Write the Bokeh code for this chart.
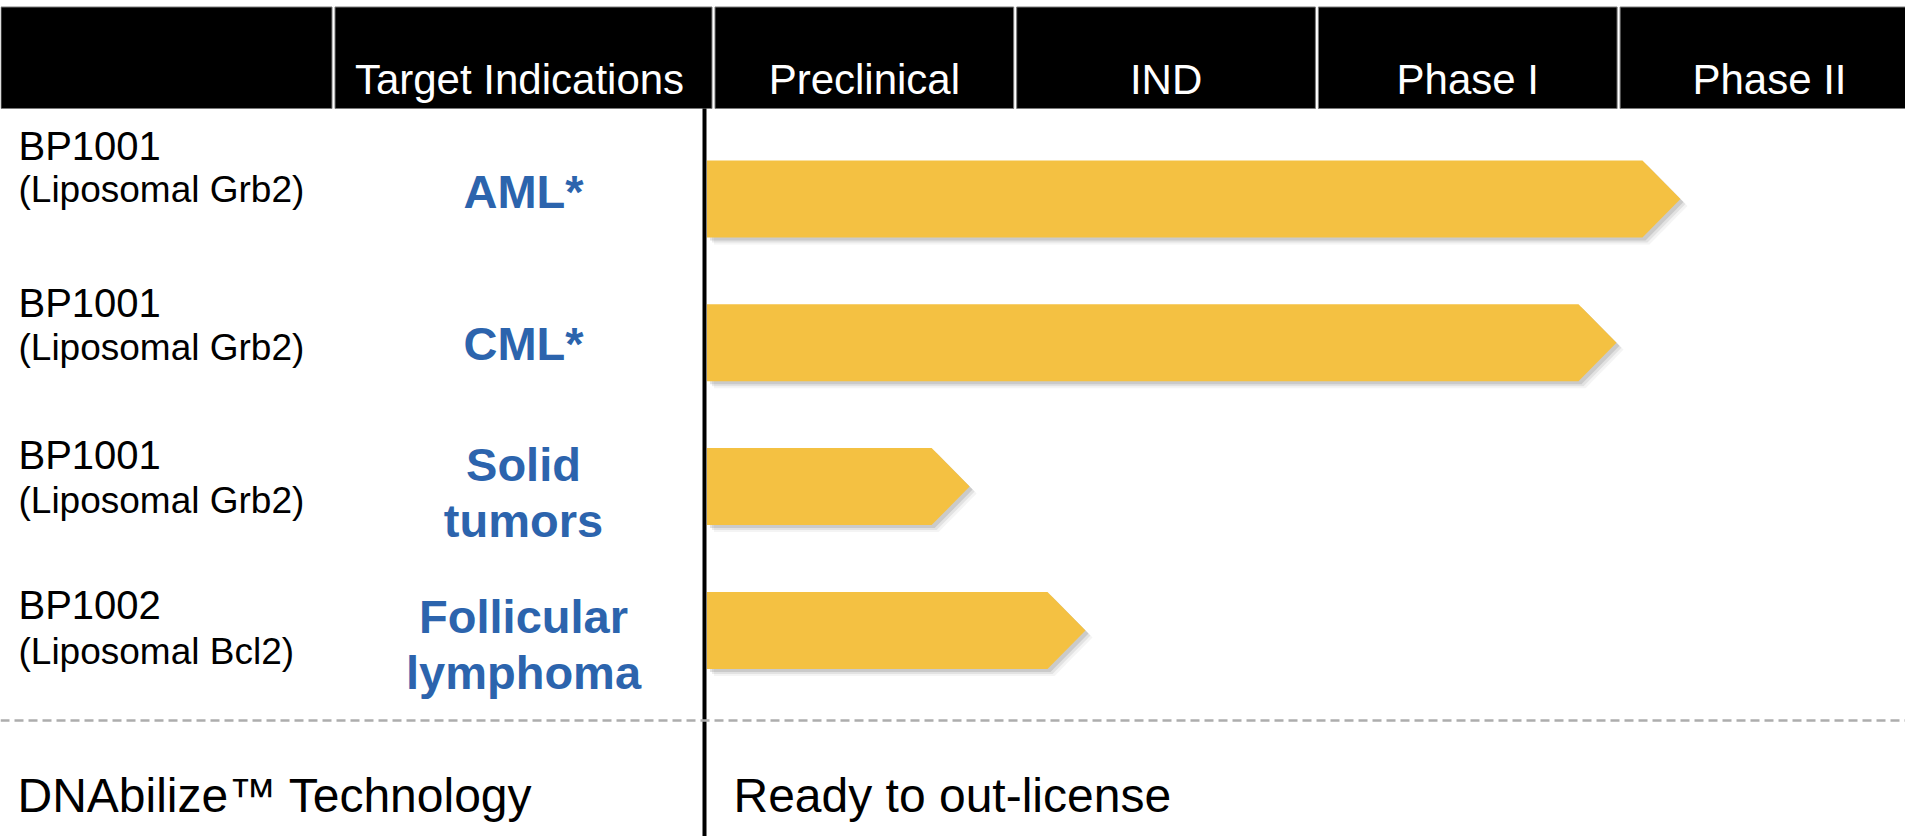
from bokeh.plotting import figure
from bokeh.models import Range1d
from bokeh.core.properties import value
from bokeh.embed import file_html
from bokeh.resources import INLINE

# ---------------- data ----------------
first_header = "Target Indications"
stages = ["Preclinical", "IND", "Phase I", "Phase II"]
drugs = ["BP1001", "BP1001", "BP1001", "BP1002"]
formulations = ["(Liposomal Grb2)", "(Liposomal Grb2)", "(Liposomal Grb2)", "(Liposomal Bcl2)"]
indications = [["AML*"], ["CML*"], ["Solid", "tumors"], ["Follicular", "lymphoma"]]
# progress in stage units, measured from the start of "Preclinical"
progress = [3.205, 2.993, 0.849, 1.233]
platform = "DNAbilize\u2122 Technology"
platform_status = "Ready to out-license"

# ---------------- layout helpers (reference pixel -> data units) ----------------
X0, CW = 713.0, 301.7     # start of Preclinical column, width of one stage column
Y0, RH = 198.5, 143.8     # centre of first row, row pitch
W, H = 1905, 836


def X(px):
    return (px - X0) / CW


def Y(py):
    return (py - Y0) / RH


def TY(base, fs):
    # baseline correction for the text renderer
    return Y(base - 0.37 * fs)


FONT = value("Liberation Sans")
BAR = "#F4C142"
BLUE = "#2C64AD"

p = figure(width=W, height=H,
           x_range=Range1d(X(0), X(W)), y_range=Range1d(Y(H), Y(0)),
           output_backend="svg", toolbar_location=None,
           x_axis_location=None, y_axis_location=None, min_border=0)
p.grid.visible = False
p.outline_line_color = None
p.background_fill_color = "white"
p.border_fill_color = "white"

# ---- header band (one black cell per column, white gaps between) ----
bounds = [X(0.5), X(333)] + [float(i) for i in range(len(stages))] + [X(1915)]
cell_l = [b + 1.5 / CW for b in bounds[:-1]]
cell_r = [b - 1.5 / CW for b in bounds[1:]]
cell_l[0] = bounds[0]
p.quad(left=cell_l, right=cell_r, top=[Y(6.5)] * len(cell_l), bottom=[Y(108)] * len(cell_l),
       fill_color="black", line_color="#7a7a7a", line_width=1)

HF = 42
head_x = [X(519)] + [i + 0.5 for i in range(len(stages))]
head_t = [first_header] + stages
p.text(x=head_x, y=[TY(95, HF)] * len(head_x), text=head_t, text_color="white",
       text_font=FONT, text_font_size=f"{HF}px", text_align="center", text_baseline="alphabetic")

# ---- vertical divider & dashed separator ----
p.segment(x0=[X(704)], y0=[Y(108)], x1=[X(704)], y1=[Y(845)], line_color="black", line_width=4)
p.segment(x0=[X(0)], y0=[Y(720)], x1=[X(1911)], y1=[Y(720)], line_color="#ADADAD",
          line_width=2.5, line_dash="9 5")

# ---- bars (arrow shapes) with soft shadow ----
left = X(706.5)
hh = 38.5 / RH
tip = 38.0 / CW
rows = list(range(len(progress)))


def arrow(v, r, dx=0.0, dy=0.0):
    xs = [left + dx, v - tip + dx, v + dx, v - tip + dx, left + dx]
    ys = [r - hh + dy, r - hh + dy, r + dy, r + hh + dy, r + hh + dy]
    return xs, ys


for off, a in [(7, 0.07), (5, 0.12), (3, 0.18)]:
    sx, sy = zip(*[arrow(v, r, off / CW, off / RH) for v, r in zip(progress, rows)])
    p.patches(xs=list(sx), ys=list(sy), fill_color="#606060", fill_alpha=a, line_color=None)

bx, by = zip(*[arrow(v, r) for v, r in zip(progress, rows)])
p.patches(xs=list(bx), ys=list(by), fill_color=BAR, line_color=None)

# ---- row labels ----
F1, F2 = 40, 37
line1_base = [160, 317, 469, 619]
line2_base = [203, 361, 514, 665]
p.text(x=[X(18)] * len(drugs), y=[TY(b, F1) for b in line1_base], text=drugs, text_color="black",
       text_font=FONT, text_font_size=f"{F1}px", text_align="left", text_baseline="alphabetic")
p.text(x=[X(18)] * len(formulations), y=[TY(b, F2) for b in line2_base], text=formulations,
       text_color="black", text_font=FONT, text_font_size=f"{F2}px", text_align="left",
       text_baseline="alphabetic")

# ---- indications (blue bold) ----
FB = 47
ind_first_base = [208, 360, 481, 633]
ind_t, ind_y = [], []
for lines, b in zip(indications, ind_first_base):
    for k, t in enumerate(lines):
        ind_t.append(t)
        ind_y.append(TY(b + 56 * k, FB))
p.text(x=[X(523)] * len(ind_t), y=ind_y, text=ind_t, text_color=BLUE, text_font=FONT,
       text_font_style="bold", text_font_size=f"{FB}px", text_align="center",
       text_baseline="alphabetic")

# ---- platform row ----
FP = 48
p.text(x=[X(17), X(733)], y=[TY(813, FP), TY(813, FP)], text=[platform, platform_status],
       text_color="black", text_font=FONT, text_font_size=f"{FP}px", text_align="left",
       text_baseline="alphabetic")

open("out.html", "w").write(file_html(p, INLINE))
